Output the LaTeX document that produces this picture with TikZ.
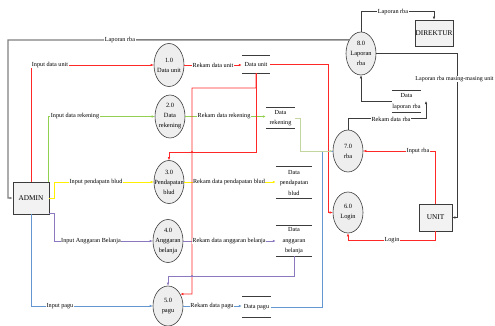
\documentclass[tikz,border=0pt]{standalone}
\usepackage{fontspec}
\setmainfont{Liberation Serif}
\usetikzlibrary{arrows.meta,shapes.geometric,shadows}
\definecolor{cred}{RGB}{255,40,40}
\definecolor{cgreen}{RGB}{146,208,80}
\definecolor{colive}{RGB}{196,214,160}
\definecolor{cyellow}{RGB}{255,240,0}
\definecolor{cpurple}{RGB}{140,120,190}
\definecolor{cblue}{RGB}{100,150,210}
\definecolor{cgray}{RGB}{128,128,128}
\definecolor{cdark}{RGB}{60,60,60}
\begin{document}
\begin{tikzpicture}[x=1pt,y=-1pt,
 proc/.style={ellipse,draw=cdark,fill=gray!13,line width=0.6pt,minimum width=30pt,minimum height=43pt,inner sep=0pt},
 ptext/.style={inner sep=0pt,align=center,font=\fontsize{6.4}{10}\selectfont},
 ent/.style={rectangle,draw=cdark,fill=gray!10,line width=0.7pt,inner sep=0pt,font=\fontsize{7.3}{8}\selectfont,drop shadow={shadow xshift=0.8pt,shadow yshift=-0.8pt,opacity=0.4}},
 store/.style={inner sep=0pt,align=center,font=\fontsize{6.2}{10.5}\selectfont},
 sline/.style={draw=cdark,line width=0.8pt},
 lbl/.style={fill=white,inner sep=0.5pt,font=\fontsize{6.2}{7}\selectfont},
 arr/.style={-{Latex[length=3pt,width=2.6pt]}},
 lk/.style={line width=0.9pt,arr},
]
\useasboundingbox (0,0) rectangle (495,325);

% external entities
\node[ent,minimum width=36pt,minimum height=32pt] (admin) at (31,198) {ADMIN};
\node[ent,minimum width=38pt,minimum height=26pt] (direktur) at (434,33) {DIREKTUR};
\node[ent,minimum width=33pt,minimum height=27pt] (unit) at (435.5,217.5) {UNIT};

% processes
\node[proc] (p1) at (169,65) {};
\node[proc] (p2) at (170,116.5) {};
\node[proc] (p3) at (169,182) {};
\node[proc] (p4) at (168,241) {};
\node[proc,minimum height=40pt] (p5) at (168,306) {};
\node[proc] (p8) at (361,53.5) {};
\node[proc,minimum height=42pt] (p7) at (348,151) {};
\node[proc,minimum height=41pt] (p6) at (348,212.5) {};
\node[ptext] (p1t) at (p1) {1.0\\Data unit};
\node[ptext] (p2t) at (p2) {2.0\\Data\\rekening};
\node[ptext] (p3t) at (p3) {3.0\\Pendapatan\\blud};
\node[ptext] (p4t) at (p4) {4.0\\Anggaran\\belanja};
\node[ptext] (p5t) at (p5) {5.0\\pagu};
\node[ptext] (p8t) at (p8) {8.0\\Laporan\\rba};
\node[ptext] (p7t) at (p7) {7.0\\rba};
\node[ptext] (p6t) at (p6) {6.0\\Login};

% data stores
\node[store,minimum width=28pt,minimum height=17pt] (dsunit) at (256,64.5) {Data unit};
\node[store,minimum width=29pt,minimum height=20pt] (dsrek) at (280.5,118) {Data\\rekening};
\node[store,minimum width=36pt,minimum height=31pt] (dspend) at (294,182.5) {Data\\pendapatan\\blud};
\node[store,minimum width=36pt,minimum height=30pt] (dsangg) at (294,241) {Data\\anggaran\\belanja};
\node[store,minimum width=29pt,minimum height=20pt] (dspagu) at (256.5,307) {Data pagu};
\node[store,minimum width=29pt,minimum height=21pt] (dslap) at (406.5,101.5) {Data\\laporan rba};
\foreach \s in {dsunit,dsrek,dspend,dsangg,dspagu,dslap}
  \draw[sline] (\s.north west) -- (\s.north east) (\s.south west) -- (\s.south east);

% helper coordinates
\coordinate (cL) at (8,40);
\coordinate (rx) at (328,0);
\coordinate (j1) at (192,88);
\coordinate (j2) at (192,294);
\coordinate (bx) at (322,0);
\coordinate (r1) at (426,101);
\coordinate (v1) at (457,0);

% connectors
\draw[lk,cgray,line width=1.4pt] (p8.131) -- (cL) |- (admin.west);
\draw[lk,cred] (admin.north) |- (p1.west);
\draw[lk,cgreen] ([xshift=-1pt]admin.north east) |- (p2.west);
\draw[lk,cyellow] (admin.east) -- ++(5,0) |- (p3.west);
\draw[lk,cpurple] ([yshift=0.5pt]admin.south east) -- ++(5,0) |- (p4.west);
\draw[lk,cblue] (admin.south) |- (p5.west);

\draw[lk,cred] (p1.east) -- (p1.east -| dsunit.west);
\draw[lk,cgreen] (p2.east) -- (p2.east -| dsrek.west);
\draw[lk,cyellow] (p3.east) -- (p3.east -| dspend.west);
\draw[lk,cpurple] (p4.east) -- (p4.east -| dsangg.west);
\draw[lk,cblue] (p5.east) -- (p5.east -| dspagu.west);

\draw[lk,cred] (dsunit.east) -- (dsunit.east -| rx) |- (p6.west);
\draw[lk,cred] (dsunit.south) -- ++(0,79) -| (p3.north);
\draw[lk,cred] (dsunit.south) |- (j1) -- (j2) -- (p5.44);

\draw[line width=0.9pt,cblue] (dspagu.east) -- (dspagu.east -| bx) |- (p7.west);
\draw[lk,colive] (dsrek.east) -- ++(5,0) |- (p7.west);
\draw[lk,cpurple] (dsangg.south) -- ++(0,20) -| (p5.north);

\draw[lk,cred] (unit.north) |- (p7.east);
\draw[lk,cred] (unit.south) -- ++(0,9) -| (p6.south);
\draw[lk,cdark,line width=0.7pt] (p7.north) -- ++(0,-11) -| (r1);
\draw[lk,cdark,line width=0.7pt] (dslap.west) -| (p8.south);
\draw[lk,cdark,line width=0.7pt] (p8.north) -- ++(0,-20) -| (direktur.north);
\draw[lk,cdark,line width=0.7pt] (p8.east) -- (p8.east -| v1) |- (unit.east);

\fill[cred] (192,152) circle (1.1pt);
\fill[cpurple] (192,276) circle (1.1pt);

% labels
\node[lbl] (l1) at (120,40) {Laporan rba};
\node[lbl] (l2) at (50,65) {Input data unit};
\node[lbl] (l3) at (75,116.5) {Input data rekening};
\node[lbl] (l4) at (96,182) {Input pendapatn blud};
\node[lbl] (l5) at (91,241) {Input Anggaran Belanja};
\node[lbl] (l6) at (60,306) {Input pagu};
\node[lbl] (l7) at (213,65) {Rekam data unit};
\node[lbl] (l8) at (224,116.5) {Rekam data rekening};
\node[lbl] (l9) at (229,182) {Rekam data pendapatan blud};
\node[lbl] (l10) at (229,241) {Rekam data anggaran belanja};
\node[lbl] (l11) at (212,306) {Rekam data pagu};
\node[lbl] (l12) at (418,151) {Input rba};
\node[lbl] (l13) at (392,240) {Login};
\node[lbl] (l14) at (391,119) {Rekam data rba};
\node[lbl] (l15) at (393,12) {Laporan rba};
\node[lbl,font=\fontsize{6}{7}\selectfont] (l16) at (454.5,79) {Laporan rba masing-masing unit};
\end{tikzpicture}
\end{document}
